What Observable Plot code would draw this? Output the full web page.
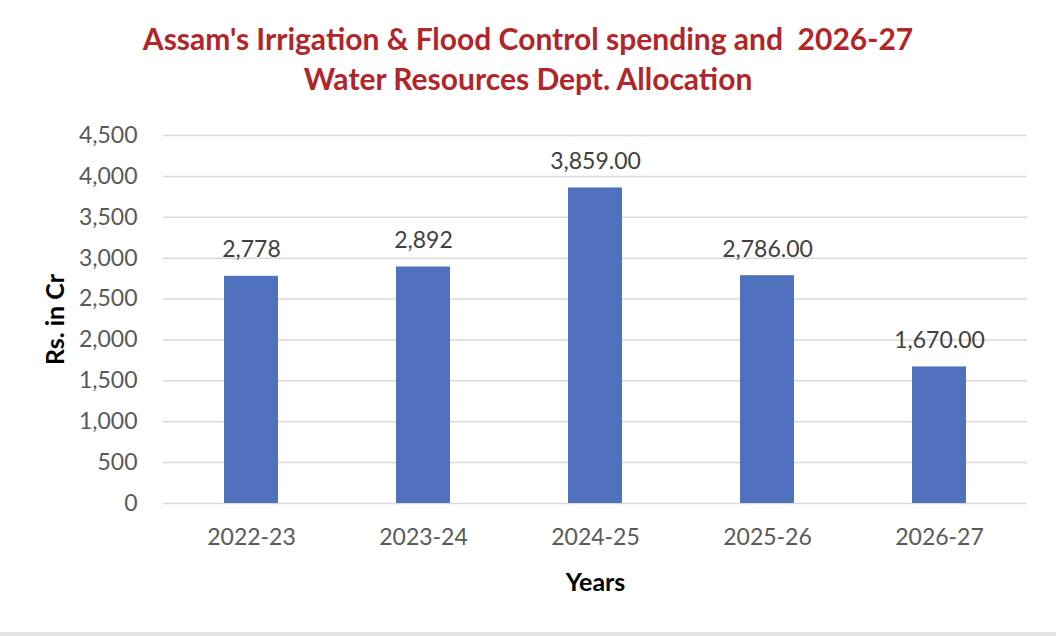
<!DOCTYPE html>
<html><head><meta charset="utf-8">
<script src="https://cdn.jsdelivr.net/npm/d3@7"></script>
<script src="https://cdn.jsdelivr.net/npm/@observablehq/plot@0.6"></script>
<style>
body{margin:0;background:#fff;width:1056px;height:636px;overflow:hidden;position:relative;font-family:Lato,sans-serif}
.title{position:absolute;left:0;width:1056px;text-align:center;color:#B0262A;font-weight:700;white-space:pre;line-height:1.2;font-size:30px}
#chart{position:absolute;left:0;top:120px}
#band{position:absolute;left:0;bottom:0;width:1056px;height:4px;background:#e3e3e3}
#chart [aria-label="y-axis label"] text,#chart [aria-label="x-axis label"] text{font-weight:700;fill:#000;font-size:25px}
</style></head><body>
<div class="title" id="t1" style="top:20px"></div>
<div class="title" id="t2" style="top:60px"></div>
<div id="chart"></div>
<div id="band"></div>
<script>
const titleLines = ["Assam's Irrigation & Flood Control spending and  2026-27", "Water Resources Dept. Allocation"];
const years = ["2022-23","2023-24","2024-25","2025-26","2026-27"];
const values = [2778, 2892, 3859, 2786, 1670];
const valueLabels = ["2,778","2,892","3,859.00","2,786.00","1,670.00"];
const yTicks = [0,500,1000,1500,2000,2500,3000,3500,4000,4500];

document.getElementById("t1").textContent = titleLines[0];
document.getElementById("t2").textContent = titleLines[1];

const data = years.map((y,i)=>({year:y, value:values[i], label:valueLabels[i]}));

const chart = Plot.plot({
  width:1056, height:516,
  marginTop:15, marginBottom:133, marginLeft:163, marginRight:29,
  style:{fontFamily:"Lato, sans-serif", background:"transparent", overflow:"visible"},
  x:{domain:years, paddingInner:0.6875, paddingOuter:0.34375, label:null},
  y:{domain:[0,4500]},
  marks:[
    Plot.gridY(yTicks,{stroke:"#d9d9d9", strokeOpacity:1, strokeWidth:1.5}),
    Plot.barY(data,{x:"year", y:"value", fill:"#4F71BE"}),
    Plot.text(data,{x:"year", y:"value", text:"label", dy:-19, lineAnchor:"bottom", fontSize:23, fill:"#404040"}),
    Plot.axisY({ticks:yTicks, tickSize:0, tickPadding:26, tickFormat:d3.format(","), fontSize:23, fill:"#595959", label:"Rs. in Cr", labelArrow:false, labelAnchor:"center", labelOffset:117}),
    Plot.axisX({tickSize:0, tickPadding:25, fontSize:23, fill:"#595959", label:"Years", labelArrow:false, labelAnchor:"center", labelOffset:87})
  ]
});
document.getElementById("chart").appendChild(chart);
</script>
</body></html>
